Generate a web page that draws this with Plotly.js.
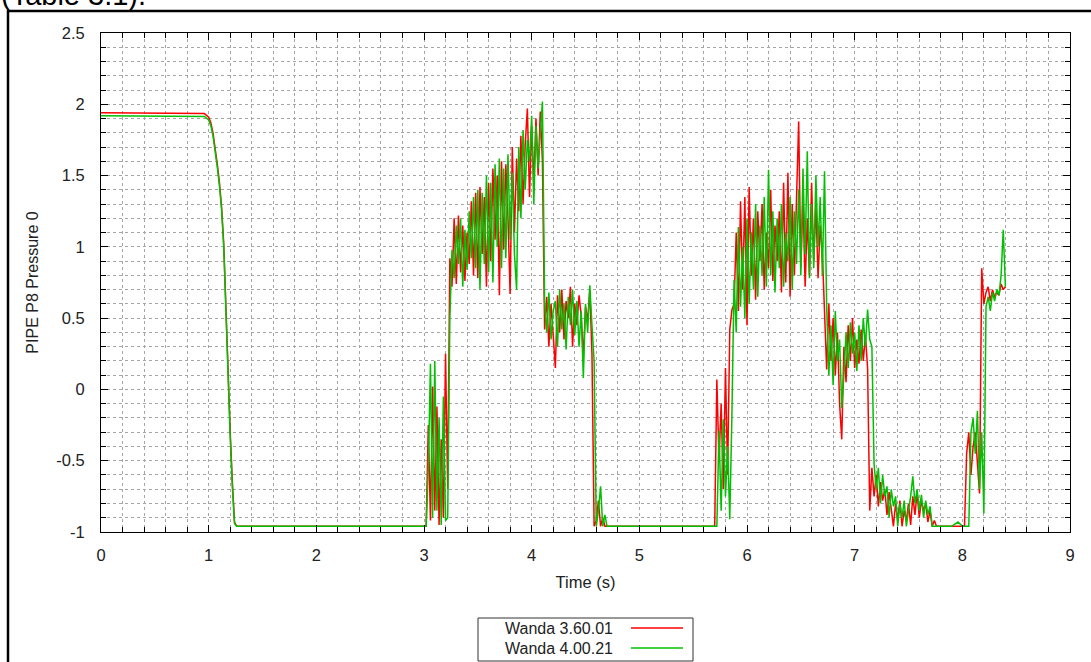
<!DOCTYPE html>
<html>
<head>
<meta charset="utf-8">
<script src="https://cdn.plot.ly/plotly-3.0.1.min.js"></script>
<style>
  html, body { margin: 0; padding: 0; background: #fff; }
  #chart { width: 1091px; height: 662px; }
</style>
</head>
<body>
<div id="chart"></div>
<script>
// ---------- DATA ----------
var seriesNames = ["Wanda 3.60.01", "Wanda 4.00.21"];

// segment A: initial plateau and first drop
var timeA  = [0, 0.9, 0.96, 1, 1.02, 1.04, 1.06, 1.08, 1.1, 1.12, 1.14, 1.16, 1.18, 1.2, 1.22, 1.24, 1.26, 2, 3];
var redA   = [1.94, 1.94, 1.935, 1.91, 1.87, 1.80, 1.70, 1.58, 1.45, 1.28, 1.02, 0.55, 0.05, -0.3, -0.65, -0.93, -0.96, -0.96, -0.96];
var greenA = [1.92, 1.92, 1.915, 1.89, 1.85, 1.78, 1.68, 1.56, 1.43, 1.26, 1.0, 0.52, 0.02, -0.33, -0.68, -0.94, -0.96, -0.96, -0.96];

// segment B: first oscillating burst 3.02 .. 4.70 s
var timeB = [3.02,3.04,3.06,3.08,3.10,3.12,3.14,3.16,3.18,3.20,
             3.22,3.24,3.26,3.28,3.30,3.32,3.34,3.36,3.38,3.40,
             3.42,3.44,3.46,3.48,3.50,3.52,3.54,3.56,3.58,3.60,
             3.62,3.64,3.66,3.68,3.70,3.72,3.74,3.76,3.78,3.80,
             3.82,3.84,3.86,3.88,3.90,3.92,3.94,3.96,3.98,4.00,
             4.02,4.04,4.06,4.08,4.10,4.12,4.14,4.16,4.18,4.20,
             4.22,4.24,4.26,4.28,4.30,4.32,4.34,4.36,4.38,4.40,
             4.42,4.44,4.46,4.48,4.50,4.52,4.54,4.56,4.58,4.60,
             4.62,4.64,4.66,4.68,4.70];
var redB = [-0.96,-0.25,-0.92,0.02,-0.85,-0.12,-0.95,-0.35,-0.9,0.25,
            -0.7,0.92,0.72,1.2,0.74,1.22,0.82,1.15,0.76,1.1,
            0.88,1.32,0.8,1.38,0.78,1.42,0.95,1.35,0.72,1.45,
            0.9,1.55,1.05,1.5,0.66,1.6,0.98,1.58,1.2,0.67,
            1.7,1.1,1.62,1.25,1.78,1.3,1.72,1.97,1.35,1.85,
            1.45,1.9,1.5,1.95,1.6,0.42,0.65,0.3,0.6,0.38,
            0.15,0.66,0.4,0.7,0.35,0.62,0.5,0.72,0.3,0.6,
            0.45,0.66,0.52,0.22,0.58,0.48,0.7,0.25,-0.96,-0.92,
            -0.78,-0.96,-0.9,-0.96,-0.96];
var greenB = [-0.96,-0.55,0.18,-0.9,0.2,-0.85,-0.2,-0.95,-0.05,-0.92,
              -0.9,0.5,0.98,0.78,1.15,0.88,1.2,0.72,1.12,0.84,
              1.25,0.92,1.35,0.85,1.4,0.7,1.38,0.88,1.5,0.82,
              1.45,0.75,1.58,1.0,1.62,0.85,1.55,0.92,1.65,1.05,
              1.52,0.95,0.7,1.7,1.2,1.82,1.4,1.75,1.6,1.92,
              1.3,1.85,1.55,1.8,2.02,0.62,0.4,0.68,0.35,0.55,
              0.62,0.3,0.7,0.42,0.6,0.28,0.65,0.45,0.7,0.38,
              0.62,0.3,0.55,0.08,0.6,0.4,0.73,0.45,0.2,-0.96,
              -0.85,-0.68,-0.96,-0.88,-0.96];

// segment C: floor
var timeC  = [5, 5.5, 5.68];
var redC   = [-0.96, -0.96, -0.96];
var greenC = [-0.96, -0.96, -0.96];

// segment D: second oscillating burst 5.70 .. 7.80 s
var timeD = [5.70,5.72,5.74,5.76,5.78,5.80,5.82,5.84,5.86,5.88,
             5.90,5.92,5.94,5.96,5.98,6.00,6.02,6.04,6.06,6.08,
             6.10,6.12,6.14,6.16,6.18,6.20,6.22,6.24,6.26,6.28,
             6.30,6.32,6.34,6.36,6.38,6.40,6.42,6.44,6.46,6.48,
             6.50,6.52,6.54,6.56,6.58,6.60,6.62,6.64,6.66,6.68,
             6.70,6.72,6.74,6.76,6.78,6.80,6.82,6.84,6.86,6.88,
             6.90,6.92,6.94,6.96,6.98,7.00,7.02,7.04,7.06,7.08,
             7.10,7.12,7.14,7.16,7.18,7.20,7.22,7.24,7.26,7.28,
             7.30,7.32,7.34,7.36,7.38,7.40,7.42,7.44,7.46,7.48,
             7.50,7.52,7.54,7.56,7.58,7.60,7.62,7.64,7.66,7.68,
             7.70,7.72,7.74,7.76,7.78,7.80];
var redD = [-0.96,0.07,-0.5,-0.1,-0.7,0.15,-0.6,0.42,0.56,0.6,
            1.1,0.55,1.32,0.7,1.35,0.45,1.42,0.8,1.2,0.63,
            1.25,0.9,1.3,0.7,1.1,0.85,1.4,0.76,1.15,0.9,
            1.25,0.68,1.45,0.75,1.52,0.65,1.3,0.8,1.4,1.88,
            0.85,1.35,0.72,1.2,0.8,1.45,0.9,1.3,0.78,1.15,
            0.95,0.48,0.14,0.6,0.2,0.5,0.1,0.4,-0.1,-0.35,
            0.3,0.05,0.45,0.2,0.5,0.15,0.35,0.18,0.42,0.2,
            0.38,0.15,-0.85,-0.55,-0.75,-0.6,-0.82,-0.65,-0.78,-0.7,
            -0.88,-0.72,-0.85,-0.96,-0.8,-0.92,-0.78,-0.96,-0.85,-0.92,
            -0.8,-0.95,-0.75,-0.88,-0.72,-0.9,-0.78,-0.85,-0.8,-0.93,
            -0.85,-0.96,-0.92,-0.96,-0.96,-0.96];
var greenD = [-0.96,-0.96,-0.29,-0.85,-0.21,-0.75,-0.4,-0.91,-0.17,0.77,
              0.4,1.14,0.58,1.0,0.5,1.2,0.6,1.1,0.7,1.3,
              0.65,1.15,0.8,1.35,0.72,1.54,0.8,1.25,0.68,1.2,
              0.85,1.3,0.72,1.1,0.9,1.35,0.7,1.25,0.88,1.4,
              0.8,1.55,0.95,1.67,0.78,1.3,0.85,1.5,1.0,1.35,
              0.8,1.53,0.58,0.1,0.45,0.03,0.55,0.2,0.35,-0.13,
              0.1,0.4,0.15,0.47,0.25,0.4,0.13,0.45,0.2,0.5,
              0.3,0.56,0.35,0.3,-0.52,-0.7,-0.55,-0.8,-0.6,-0.75,
              -0.68,-0.9,-0.7,-0.82,-0.75,-0.96,-0.8,-0.9,-0.78,-0.96,
              -0.85,-0.75,-0.61,-0.8,-0.7,-0.85,-0.74,-0.9,-0.78,-0.88,
              -0.82,-0.96,-0.96,-0.96,-0.96,-0.96];

// segment E: floor
var timeE  = [7.9, 7.96, 8];
var redE   = [-0.96, -0.96, -0.96];
var greenE = [-0.96, -0.93, -0.96];

// segment F: final rise 8.02 .. 8.40 s
var timeF = [8.02,8.04,8.06,8.08,8.10,8.12,8.14,8.16,8.18,8.20,
             8.22,8.24,8.26,8.28,8.30,8.32,8.34,8.36,8.38,8.40];
var redF = [-0.96,-0.45,-0.3,-0.6,-0.4,-0.3,-0.55,-0.73,0.85,0.6,
            0.68,0.72,0.62,0.7,0.65,0.68,0.66,0.74,0.7,0.72];
var greenF = [-0.96,-0.96,-0.96,-0.3,-0.2,-0.45,-0.15,-0.7,-0.3,-0.87,
              0.58,0.65,0.55,0.68,0.62,0.7,0.66,0.8,1.12,0.72];

var xTickVals = [0,1,2,3,4,5,6,7,8,9];
var yTickVals = [-1,-0.5,0,0.5,1,1.5,2,2.5];
var yTickText = ["-1","-0.5","0","0.5","1","1.5","2","2.5"];

// ---------- BUILD ----------
var time  = [].concat(timeA, timeB, timeC, timeD, timeE, timeF);
var red   = [].concat(redA, redB, redC, redD, redE, redF);
var green = [].concat(greenA, greenB, greenC, greenD, greenE, greenF);

var FONT = "Liberation Sans, Arial, sans-serif";
var RED = "#ff0000", GREEN = "#00c000";

// plot area in pixels
var L = 101, R = 1070, T = 33, B = 532;
function px(x) { return (x - L) / (R - L); }
function py(y) { return (B - y) / (B - T); }

var traces = [
  { x: time, y: red,   type: "scatter", mode: "lines", name: seriesNames[0],
    line: { color: RED, width: 1.5 }, showlegend: false },
  { x: time, y: green, type: "scatter", mode: "lines", name: seriesNames[1],
    line: { color: GREEN, width: 1.5 }, showlegend: false }
];

var gridCol = "#a6a6a6";
var TXT = "#222";
layout = {
  width: 1091, height: 662,
  margin: { l: L, r: 1091 - R, t: T, b: 662 - B },
  paper_bgcolor: "#ffffff", plot_bgcolor: "#ffffff",
  font: { family: FONT, size: 16, color: TXT },
  showlegend: false,
  xaxis: {
    range: [0, 9], tickvals: xTickVals, ticks: "inside", ticklen: 7, tickwidth: 1, tickcolor: "#000",
    showline: true, linecolor: "#000", linewidth: 1, mirror: "ticks", zeroline: false,
    showgrid: true, gridcolor: gridCol, griddash: "dot", gridwidth: 1,
    minor: { dtick: 0.2, ticks: "inside", ticklen: 5, tickcolor: "#000", showgrid: true, gridcolor: gridCol, griddash: "dot", gridwidth: 1 },
    tickfont: { family: FONT, size: 16.5, color: TXT }, ticklabelstandoff: 8,
    title: { text: "Time (s)", font: { family: FONT, size: 16.5, color: TXT }, standoff: 13 },
    automargin: false
  },
  yaxis: {
    range: [-1, 2.5], tickvals: yTickVals, ticktext: yTickText, ticks: "inside", ticklen: 7, tickwidth: 1, tickcolor: "#000",
    showline: true, linecolor: "#000", linewidth: 1, mirror: "ticks", zeroline: false,
    showgrid: true, gridcolor: gridCol, griddash: "dot", gridwidth: 1,
    minor: { dtick: 0.1, ticks: "inside", ticklen: 5, tickcolor: "#000", showgrid: true, gridcolor: gridCol, griddash: "dot", gridwidth: 1 },
    tickfont: { family: FONT, size: 16.5, color: TXT }, ticklabelstandoff: 12,
    title: { text: "PIPE P8 Pressure 0", font: { family: FONT, size: 16, color: TXT }, standoff: 13 },
    automargin: false
  },
  shapes: [
    // outer page frame
    { type: "line", xref: "paper", yref: "paper", x0: px(8), x1: px(8), y0: py(10), y1: py(700), line: { color: "#000", width: 2.5 } },
    { type: "line", xref: "paper", yref: "paper", x0: px(7), x1: px(1100), y0: py(11), y1: py(11), line: { color: "#000", width: 2.5 } },
    // legend box
    { type: "rect", xref: "paper", yref: "paper", x0: px(478), x1: px(693), y0: py(618), y1: py(661), line: { color: "#333", width: 1 }, fillcolor: "rgba(0,0,0,0)" },
    { type: "line", xref: "paper", yref: "paper", x0: px(631), x1: px(683), y0: py(628), y1: py(628), line: { color: RED, width: 1.5 } },
    { type: "line", xref: "paper", yref: "paper", x0: px(631), x1: px(683), y0: py(648), y1: py(648), line: { color: GREEN, width: 1.5 } }
  ],
  annotations: [
    { text: "(Table 3.1).", xref: "paper", yref: "paper", x: px(-1), y: py(13), xanchor: "left", yanchor: "bottom",
      showarrow: false, font: { family: FONT, size: 29, color: "#000" } },
    { text: seriesNames[0], xref: "paper", yref: "paper", x: px(615), y: py(628), xanchor: "right", yanchor: "middle",
      showarrow: false, font: { family: FONT, size: 16, color: TXT } },
    { text: seriesNames[1], xref: "paper", yref: "paper", x: px(615), y: py(648), xanchor: "right", yanchor: "middle",
      showarrow: false, font: { family: FONT, size: 16, color: TXT } }
  ]
};

Plotly.newPlot("chart", traces, layout, { staticPlot: true, displayModeBar: false });
</script>
</body>
</html>
